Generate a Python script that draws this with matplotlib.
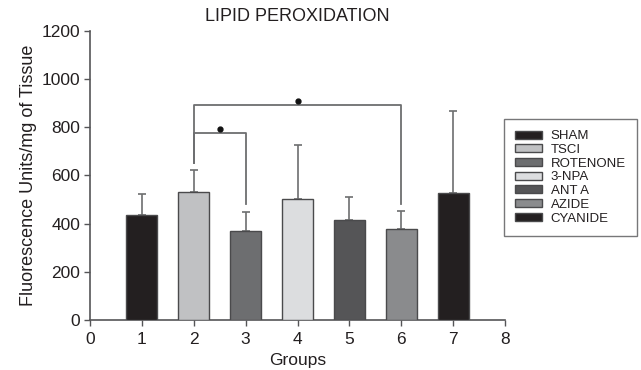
import matplotlib
matplotlib.use("Agg")
import matplotlib.pyplot as plt

plt.rcParams['font.family'] = ['Liberation Sans', 'DejaVu Sans']

groups = [1, 2, 3, 4, 5, 6, 7]
labels = ["SHAM", "TSCI", "ROTENONE", "3-NPA", "ANT A", "AZIDE", "CYANIDE"]
means = [434, 531, 371, 500, 415, 378, 527]
errors = [88, 92, 78, 226, 94, 76, 339]
colors = ["#231f20", "#c0c1c3", "#6d6e70", "#dcdddf", "#555557", "#8a8b8d", "#231f20"]

# significance brackets: (x_left, x_right, y_top, y_left_end, y_right_end, star_x, star_y)
brackets = [
    (2, 3, 775, 653, 481, 2.5, 793),
    (2, 6, 893, 653, 481, 4.0, 907),
]

fig = plt.figure(figsize=(6.41, 3.70), dpi=100)
ax = fig.add_axes([90/641, 50/370, 415/641, 289.3/370])

edge = "#4a4a4c"
for g, m, e, c, lab in zip(groups, means, errors, colors, labels):
    ax.bar(g, m, width=0.6, color=c, edgecolor=edge, linewidth=1.0, label=lab, zorder=3)
    ax.errorbar(g, m, yerr=[[0], [e]], fmt='none', ecolor="#6d6e70", elinewidth=1.2,
                capsize=3, capthick=1.2, zorder=2)

for xl, xr, yt, yl, yr, sx, sy in brackets:
    ax.plot([xl, xl, xr, xr], [yl, yt, yt, yr], color="#6d6e70", lw=1.3, zorder=4)
    ax.plot([sx], [sy], marker='o', color="#111111", markersize=3.5, zorder=5)

ax.set_xlim(0, 8)
ax.set_ylim(0, 1200)
ax.set_xticks(range(0, 9))
ax.set_yticks(range(0, 1201, 200))
for s in ["top", "right"]:
    ax.spines[s].set_visible(False)
for s in ["left", "bottom"]:
    ax.spines[s].set_color("#555557")
    ax.spines[s].set_linewidth(1.2)
ax.tick_params(axis='both', colors="#555557", labelcolor="#231f20", labelsize=12.5,
               length=4, width=1.0, direction='out', pad=3)
ax.tick_params(axis='x', pad=5)
ax.set_xlabel("Groups", fontsize=12.5, color="#231f20", labelpad=4)
ax.set_ylabel("Fluorescence Units/mg of Tissue", fontsize=13, color="#231f20", labelpad=3)
ax.set_title("LIPID PEROXIDATION", fontsize=13, color="#231f20", pad=7)

leg = fig.legend(loc='upper left', bbox_to_anchor=(504/641, 1 - 119/370), fontsize=9.5,
                 frameon=True, fancybox=False, handlelength=2.0, handleheight=0.55,
                 labelspacing=0.13, handletextpad=0.7, borderpad=0.85, borderaxespad=0)
leg.get_frame().set_edgecolor("#555557")
leg.get_frame().set_linewidth(1.0)
for t in leg.get_texts():
    t.set_color("#231f20")

fig.savefig("out.png", dpi=100)
